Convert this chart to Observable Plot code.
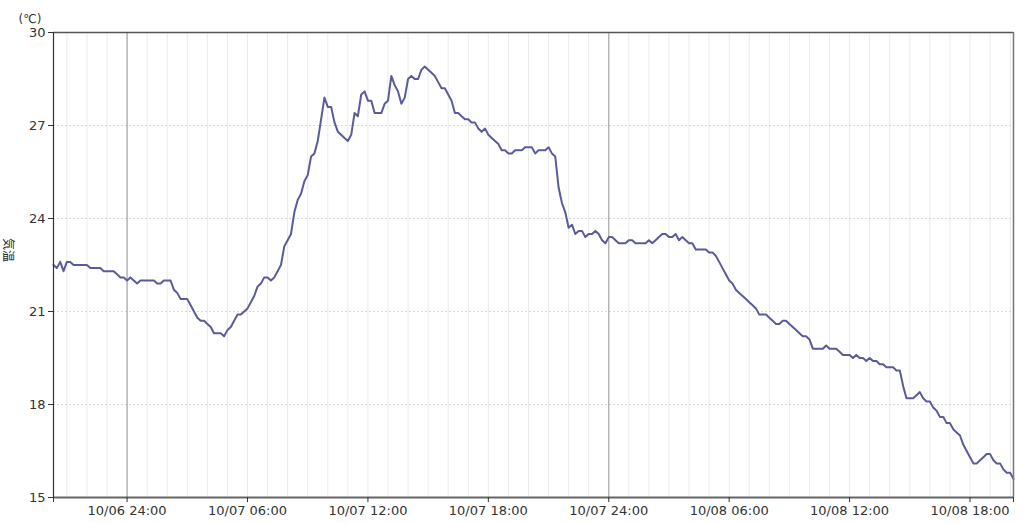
<!DOCTYPE html>
<html><head><meta charset="utf-8">
<script src="https://cdn.jsdelivr.net/npm/d3@7"></script>
<script src="https://cdn.jsdelivr.net/npm/@observablehq/plot@0.6"></script>
<style>body{margin:0;background:#fff}</style>
</head><body><div id="chart"></div>
<script>
const startTime = "2024-10-06T20:20:00Z";
const endTime = "2024-10-08T20:10:00Z";
const stepMinutes = 10;
const temperatures = [
22.5,22.4,22.6,22.3,22.6,22.6,22.5,22.5,22.5,22.5,
22.5,22.4,22.4,22.4,22.4,22.3,22.3,22.3,22.3,22.2,
22.1,22.1,22.0,22.1,22.0,21.9,22.0,22.0,22.0,22.0,
22.0,21.9,21.9,22.0,22.0,22.0,21.7,21.6,21.4,21.4,
21.4,21.2,21.0,20.8,20.7,20.7,20.6,20.5,20.3,20.3,
20.3,20.2,20.4,20.5,20.7,20.9,20.9,21.0,21.1,21.3,
21.5,21.8,21.9,22.1,22.1,22.0,22.1,22.3,22.5,23.1,
23.3,23.5,24.2,24.6,24.8,25.2,25.4,26.0,26.1,26.5,
27.2,27.9,27.6,27.6,27.1,26.8,26.7,26.6,26.5,26.7,
27.4,27.3,28.0,28.1,27.8,27.8,27.4,27.4,27.4,27.7,
27.8,28.6,28.3,28.1,27.7,27.9,28.5,28.6,28.5,28.5,
28.8,28.9,28.8,28.7,28.6,28.4,28.2,28.2,28.0,27.8,
27.4,27.4,27.3,27.2,27.2,27.1,27.1,26.9,26.8,26.9,
26.7,26.6,26.5,26.4,26.2,26.2,26.1,26.1,26.2,26.2,
26.2,26.3,26.3,26.3,26.1,26.2,26.2,26.2,26.3,26.1,
26.0,25.0,24.5,24.2,23.7,23.8,23.5,23.6,23.6,23.4,
23.5,23.5,23.6,23.5,23.3,23.2,23.4,23.4,23.3,23.2,
23.2,23.2,23.3,23.3,23.2,23.2,23.2,23.2,23.3,23.2,
23.3,23.4,23.5,23.5,23.4,23.4,23.5,23.3,23.4,23.3,
23.2,23.2,23.0,23.0,23.0,23.0,22.9,22.9,22.8,22.6,
22.4,22.2,22.0,21.9,21.7,21.6,21.5,21.4,21.3,21.2,
21.1,20.9,20.9,20.9,20.8,20.7,20.6,20.6,20.7,20.7,
20.6,20.5,20.4,20.3,20.2,20.2,20.1,19.8,19.8,19.8,
19.8,19.9,19.8,19.8,19.8,19.7,19.6,19.6,19.6,19.5,
19.6,19.5,19.5,19.4,19.5,19.4,19.4,19.3,19.3,19.2,
19.2,19.2,19.1,19.1,18.6,18.2,18.2,18.2,18.3,18.4,
18.2,18.1,18.1,17.9,17.8,17.6,17.6,17.4,17.4,17.2,
17.1,17.0,16.7,16.5,16.3,16.1,16.1,16.2,16.3,16.4,
16.4,16.2,16.1,16.1,15.9,15.8,15.8,15.6
];
const yTicks = [15, 18, 21, 24, 27, 30];
const xTickTimes = [
"2024-10-07T00:00:00Z","2024-10-07T06:00:00Z","2024-10-07T12:00:00Z","2024-10-07T18:00:00Z",
"2024-10-08T00:00:00Z","2024-10-08T06:00:00Z","2024-10-08T12:00:00Z","2024-10-08T18:00:00Z"
];
const xTickLabels = [
"10/06 24:00","10/07 06:00","10/07 12:00","10/07 18:00",
"10/07 24:00","10/08 06:00","10/08 12:00","10/08 18:00"
];
const yUnitLabel = "(℃)";
const yTitle = "気温";

const start = new Date(startTime);
const end = new Date(endTime);
const data = temperatures.map((v, i) => ({time: d3.utcMinute.offset(start, i * stepMinutes), temp: v}));
const tickDates = xTickTimes.map(s => new Date(s));
const labelMap = new Map(tickDates.map((d, i) => [+d, xTickLabels[i]]));
const hours = d3.utcHour.range(d3.utcHour.ceil(start), end);
const midnights = d3.utcDay.range(d3.utcDay.ceil(start), end);
const font = "'DejaVu Sans', 'Noto Sans CJK JP', sans-serif";

const chart = Plot.plot({
  width: 1034,
  height: 523,
  marginLeft: 53,
  marginRight: 21,
  marginTop: 32,
  marginBottom: 26,
  style: {fontFamily: font, fontSize: "13px", color: "#333", background: "#fff", overflow: "visible"},
  x: {type: "utc", domain: [start, end]},
  y: {domain: [15, 30]},
  marks: [
    Plot.ruleX(hours, {stroke: "#ebebeb", strokeWidth: 1}),
    Plot.ruleY(yTicks.filter(v => v > 15 && v < 30), {stroke: "#d8d8d8", strokeDasharray: "2,2"}),
    Plot.ruleX(midnights, {stroke: "#a8a8a8", strokeWidth: 1.2}),
    Plot.line(data, {x: "time", y: "temp", stroke: "#5a5b9b", strokeWidth: 2}),
    Plot.ruleY([30], {stroke: "#555", strokeWidth: 1.5}),
    Plot.ruleX([end], {stroke: "#777", strokeWidth: 1.5}),
    Plot.ruleY([15], {stroke: "#666", strokeWidth: 2}),
    Plot.ruleX([start], {stroke: "#333", strokeWidth: 1.2}),
    Plot.axisY({ticks: yTicks, tickSize: 5, tickPadding: 3, label: null, fontSize: 13, stroke: "#333"}),
    Plot.axisX({ticks: [start, ...tickDates, end], tickSize: 5, tickPadding: 3, label: null, fontSize: 13,
      tickFormat: d => labelMap.get(+d) ?? "", stroke: "#333"}),
    Plot.text([yUnitLabel], {frameAnchor: "top-left", dx: -35, dy: -18, textAnchor: "start", fontSize: 12, fill: "#333"}),
    Plot.text([yTitle], {frameAnchor: "left", dx: -46, dy: -27, rotate: 90, fontSize: 12, fill: "#222"})
  ]
});
document.getElementById("chart").appendChild(chart);
</script>
</body></html>
